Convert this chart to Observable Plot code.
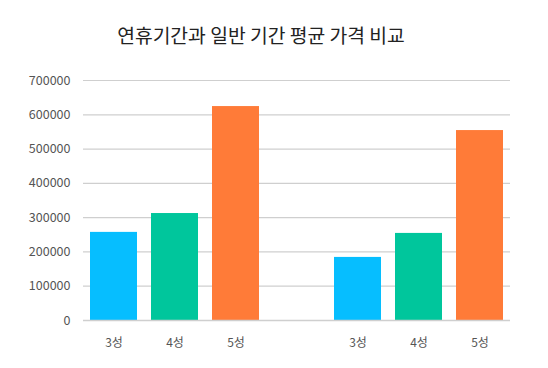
<!DOCTYPE html>
<html>
<head>
<meta charset="utf-8">
<script src="https://cdn.jsdelivr.net/npm/d3@7"></script>
<script src="https://cdn.jsdelivr.net/npm/@observablehq/plot@0.6"></script>
<style>
  html, body { margin: 0; padding: 0; background: #fff; }
  body { width: 548px; height: 368px; overflow: hidden; font-family: "Noto Sans CJK KR", "Noto Sans", sans-serif; }
  #title { height: 62px; box-sizing: border-box; padding-top: 22px; padding-right: 26px; text-align: center; font-size: 19.3px; line-height: 27px; color: #222; }
</style>
</head>
<body>
<div id="title">연휴기간과 일반 기간 평균 가격 비교</div>
<div id="chart"></div>
<script>
const periods = ["연휴기간", "일반 기간"];
const stars = ["3성", "4성", "5성"];
const holidayPrices = [257000, 312000, 624000];
const normalPrices = [184000, 254000, 554000];
const yTicks = [0, 100000, 200000, 300000, 400000, 500000, 600000, 700000];
const starColors = ["#06BEFF", "#00C69C", "#FF7B38"];

const data = [];
stars.forEach((s, i) => data.push({key: periods[0] + "|" + s, star: s, value: holidayPrices[i]}));
stars.forEach((s, i) => data.push({key: periods[1] + "|" + s, star: s, value: normalPrices[i]}));
const domain = [
  ...stars.map(s => periods[0] + "|" + s),
  "gap",
  ...stars.map(s => periods[1] + "|" + s)
];

const chart = Plot.plot({
  width: 548,
  height: 306,
  marginLeft: 83,
  marginRight: 38,
  marginTop: 18,
  marginBottom: 48,
  style: {fontFamily: "'Noto Sans CJK KR', 'Noto Sans', sans-serif", fontSize: "12px", color: "#555"},
  x: {type: "band", domain, paddingInner: 0.23, paddingOuter: 0.115, label: null},
  y: {domain: [0, 700000], label: null},
  color: {domain: stars, range: starColors},
  marks: [
    Plot.gridY(yTicks, {stroke: "#cfcfcf", strokeOpacity: 1, strokeWidth: 1.2}),
    Plot.barY(data, {x: "key", y: "value", fill: "star"}),
    Plot.ruleY([0], {stroke: "#cfcfcf", strokeWidth: 1.5}),
    Plot.axisY(yTicks, {tickSize: 0, tickPadding: 13, tickFormat: d => String(d), fill: "#555", fontSize: 12.5}),
    Plot.axisX(domain.filter(d => d !== "gap"), {tickSize: 0, tickPadding: 18, tickFormat: d => d.split("|")[1], fill: "#555", fontSize: 12})
  ]
});
document.getElementById("chart").appendChild(chart);
</script>
</body>
</html>
